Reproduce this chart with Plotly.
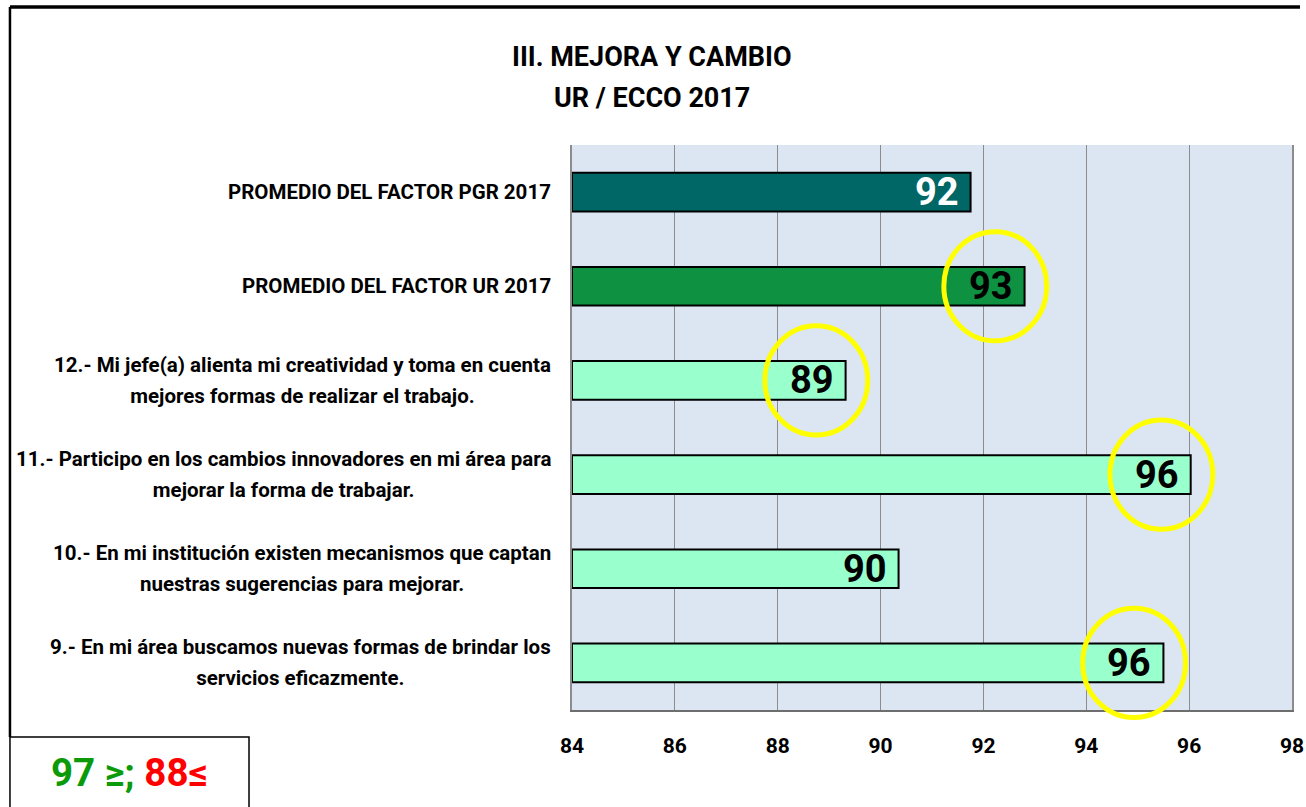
import plotly.graph_objects as go

categories = [
    "PROMEDIO DEL FACTOR PGR 2017",
    "PROMEDIO DEL FACTOR UR 2017",
    "12.- Mi jefe(a) alienta mi creatividad y toma en cuenta<br>mejores formas de realizar el trabajo.",
    "11.- Participo en los cambios innovadores en mi área para<br>mejorar la forma de trabajar.",
    "10.- En mi institución existen mecanismos que captan<br>nuestras sugerencias para mejorar.",
    "9.- En mi área buscamos nuevas formas de brindar los<br>servicios eficazmente.",
]
values = [91.75, 92.8, 89.32, 96.03, 90.35, 95.5]
labels = ["92", "93", "89", "96", "90", "96"]
circled = [False, True, True, True, False, True]
bar_colors = ["#006666", "#0E9141", "#99FFCC", "#99FFCC", "#99FFCC", "#99FFCC"]
label_colors = ["white", "black", "black", "black", "black", "black"]
x_ticks = [84, 86, 88, 90, 92, 94, 96, 98]
title_lines = ["III. MEJORA Y CAMBIO", "UR / ECCO 2017"]

FONT = "Roboto, Liberation Sans, sans-serif"
idx = list(range(len(categories)))
n_cat = len(categories)

fig = go.Figure()
fig.add_trace(go.Bar(
    y=idx, x=[v - 84 for v in values], base=84, orientation="h",
    width=0.41,
    marker=dict(color=bar_colors, line=dict(color="black", width=2)),
    hoverinfo="skip",
))

# value labels inside bar ends
for i, (v, t, c) in enumerate(zip(values, labels, label_colors)):
    fig.add_annotation(x=v, xref="x", y=i, yref="y", text=t, showarrow=False,
                       xanchor="right", yanchor="middle", xshift=-10,
                       font=dict(family=FONT, size=38, color=c, weight="bold"))

# yellow highlight circles around flagged labels (paper y so they may overhang the axis)
for i, (v, c) in enumerate(zip(values, circled)):
    if c:
        cx = v - 0.57
        yc = 1 - (i + 0.5) / n_cat
        ry = 0.58 / n_cat
        fig.add_shape(type="circle", xref="x", yref="paper",
                      x0=cx - 1.0, x1=cx + 1.0, y0=yc - ry, y1=yc + ry,
                      line=dict(color="#FFFF00", width=5), layer="above")

# category labels: centered multi-line blocks, right edge near the axis
for i, cat in enumerate(categories):
    parts = cat.split("<br>")
    text = "<br>".join("<span style='font-size:20.5px'>%s</span>" % p for p in parts)
    fig.add_annotation(x=0, xref="paper", y=i, yref="y", text=text,
                       xanchor="right", yanchor="middle", align="center",
                       xshift=-19, showarrow=False,
                       font=dict(family=FONT, size=23.85, color="black", weight="bold"))

# title lines
for k, line in enumerate(title_lines):
    fig.add_annotation(xref="paper", yref="paper", x=0.111, y=1.1558 - k * 0.0726,
                       text=line, showarrow=False, xanchor="center", yanchor="middle",
                       font=dict(family=FONT, size=27, color="black", weight="bold"))

# outer frame lines
fig.add_shape(type="line", xref="paper", yref="paper",
              x0=-0.7806, x1=1.0111, y0=1.2443, y1=1.2443,
              line=dict(color="black", width=3.5))
fig.add_shape(type="line", xref="paper", yref="paper",
              x0=-0.7806, x1=-0.7806, y0=1.2443, y1=-0.0478,
              line=dict(color="black", width=2.5))
# legend box
fig.add_shape(type="rect", xref="paper", yref="paper",
              x0=-0.7806, x1=-0.4486, y0=-0.0478, y1=-0.19,
              line=dict(color="black", width=1.5), fillcolor="white")
fig.add_annotation(xref="paper", yref="paper", x=-0.6146, y=-0.111,
                   text="<span style='color:#0A9A0A'>97 ≥;</span> <span style='color:#FF0000'>88≤</span>",
                   showarrow=False, xanchor="center", yanchor="middle",
                   font=dict(family=FONT, size=38.5, weight="bold"))

fig.update_layout(
    width=1306, height=807,
    margin=dict(l=572, r=14, t=145, b=97, autoexpand=False),
    paper_bgcolor="white", plot_bgcolor="#DCE6F2",
    showlegend=False,
    xaxis=dict(range=[84, 98], tickvals=x_ticks, showgrid=True, gridcolor="#8C8C8C",
               gridwidth=1, zeroline=False, showline=True, linecolor="#6E6E6E",
               linewidth=2, ticks="", ticklabelstandoff=16, automargin=False,
               tickfont=dict(family=FONT, size=21, color="black", weight="bold"),
               fixedrange=True),
    yaxis=dict(range=[5.5, -0.5], showticklabels=False, showgrid=False,
               zeroline=False, showline=True, mirror=True, linecolor="#8C8C8C",
               linewidth=1.5, ticks="", fixedrange=True, automargin=False),
)

fig.write_html("out.html", config={"displayModeBar": False},
               post_script="document.body.style.margin='0';")
